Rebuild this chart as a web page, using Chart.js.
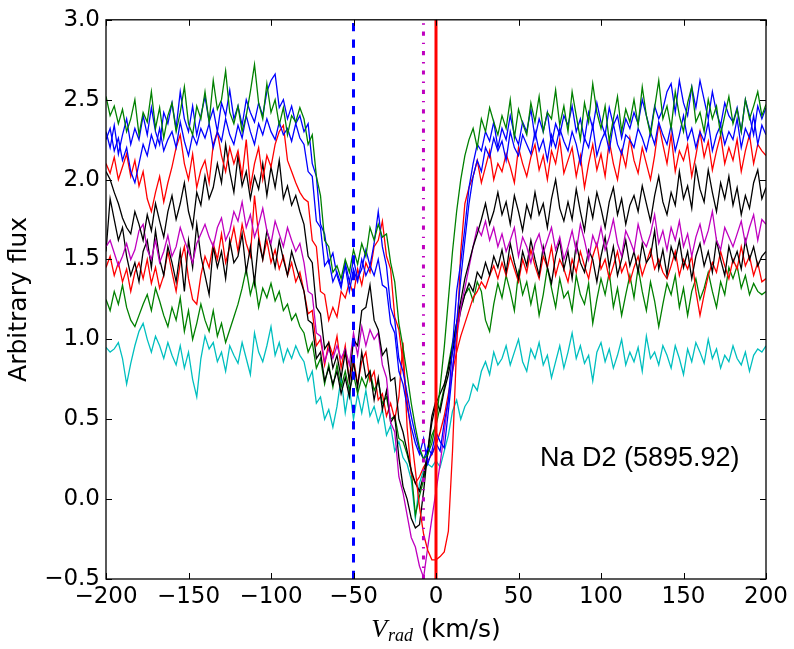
<!DOCTYPE html>
<html>
<head>
<meta charset="utf-8">
<script src="https://cdn.jsdelivr.net/npm/chart.js@4.4.1/dist/chart.umd.min.js"></script>
<style>
html,body{margin:0;padding:0;background:#fff;}
canvas{display:block;}
</style>
</head>
<body>
<canvas id="c" width="794" height="649"></canvas>
<script>
// Radial velocity grid (km/s)
const vel = [
-200,-197.5,-195,-192.5,-190,-187.5,-185,-182.5,
-180,-177.5,-175,-172.5,-170,-167.5,-165,-162.5,
-160,-157.5,-155,-152.5,-150,-147.5,-145,-142.5,
-140,-137.5,-135,-132.5,-130,-127.5,-125,-122.5,
-120,-117.5,-115,-112.5,-110,-107.5,-105,-102.5,
-100,-97.5,-95,-92.5,-90,-87.5,-85,-82.5,
-80,-77.5,-75,-72.5,-70,-67.5,-65,-62.5,
-60,-57.5,-55,-52.5,-50,-47.5,-45,-42.5,
-40,-37.5,-35,-32.5,-30,-27.5,-25,-22.5,
-20,-17.5,-15,-12.5,-10,-7.5,-5,-2.5,
0,2.5,5,7.5,10,12.5,15,17.5,
20,22.5,25,27.5,30,32.5,35,37.5,
40,42.5,45,47.5,50,52.5,55,57.5,
60,62.5,65,67.5,70,72.5,75,77.5,
80,82.5,85,87.5,90,92.5,95,97.5,
100,102.5,105,107.5,110,112.5,115,117.5,
120,122.5,125,127.5,130,132.5,135,137.5,
140,142.5,145,147.5,150,152.5,155,157.5,
160,162.5,165,167.5,170,172.5,175,177.5,
180,182.5,185,187.5,190,192.5,195,197.5,
200];

const greenHigh = [
2.52,2.40,2.46,2.35,2.44,2.30,2.38,2.50,
2.28,2.42,2.36,2.55,2.32,2.45,2.26,2.40,
2.48,2.30,2.42,2.58,2.35,2.28,2.46,2.38,
2.55,2.36,2.62,2.44,2.50,2.68,2.42,2.35,
2.46,2.30,2.40,2.55,2.72,2.48,2.38,2.60,
2.42,2.50,2.34,2.45,2.28,2.40,2.36,2.45,
2.38,2.22,2.28,2.02,1.90,1.62,1.58,1.42,
1.46,1.38,1.50,1.42,1.56,1.47,1.60,1.52,
1.70,1.62,1.72,1.64,1.66,1.48,1.36,1.10,
0.95,0.78,0.60,0.45,0.32,0.25,0.28,0.35,
0.48,0.70,0.95,1.25,1.55,1.80,2.00,2.15,
2.25,2.32,2.20,2.38,2.30,2.45,2.36,2.28,
2.40,2.32,2.50,2.26,2.44,2.35,2.28,2.48,
2.36,2.52,2.30,2.42,2.38,2.56,2.34,2.46,
2.30,2.55,2.40,2.25,2.48,2.36,2.60,2.42,
2.32,2.46,2.24,2.38,2.52,2.30,2.44,2.36,
2.50,2.34,2.58,2.40,2.28,2.45,2.62,2.38,
2.46,2.32,2.55,2.40,2.30,2.48,2.58,2.36,
2.42,2.30,2.50,2.38,2.46,2.28,2.40,2.52,
2.35,2.44,2.30,2.50,2.38,2.46,2.55,2.40,
2.47];

const blueA = [
2.30,2.20,2.34,2.16,2.28,2.38,2.22,2.32,
2.25,2.40,2.28,2.45,2.30,2.22,2.42,2.35,
2.48,2.32,2.55,2.38,2.30,2.46,2.28,2.40,
2.52,2.36,2.44,2.30,2.48,2.40,2.56,2.38,
2.46,2.34,2.50,2.42,2.36,2.48,2.40,2.55,
2.62,2.66,2.45,2.50,2.38,2.46,2.35,2.40,
2.30,2.35,2.10,2.02,1.72,1.66,1.48,1.54,
1.40,1.32,1.48,1.36,1.50,1.38,1.44,1.56,
1.46,1.60,1.80,1.58,1.46,1.20,1.12,0.88,
0.80,0.66,0.52,0.40,0.30,0.25,0.32,0.28,
0.35,0.30,0.48,0.62,0.95,1.30,1.48,1.70,
1.95,2.10,2.22,2.18,2.30,2.24,2.36,2.20,
2.32,2.25,2.40,2.28,2.22,2.36,2.30,2.44,
2.26,2.38,2.30,2.42,2.22,2.35,2.28,2.40,
2.34,2.46,2.30,2.38,2.25,2.42,2.32,2.48,
2.36,2.28,2.45,2.34,2.40,2.26,2.38,2.32,
2.42,2.35,2.50,2.40,2.30,2.46,2.38,2.44,
2.55,2.60,2.42,2.62,2.48,2.40,2.58,2.45,
2.62,2.50,2.38,2.55,2.42,2.34,2.48,2.40,
2.36,2.45,2.30,2.50,2.40,2.28,2.46,2.38,
2.45];

const blueB = [
2.25,2.32,2.18,2.26,2.12,2.20,2.05,1.98,
2.10,2.22,2.15,2.28,2.20,2.32,2.18,2.25,
2.30,2.20,2.36,2.24,2.15,2.28,2.22,2.32,
2.26,2.35,2.20,2.30,2.24,2.38,2.28,2.22,
2.34,2.26,2.40,2.30,2.22,2.35,2.28,2.38,
2.30,2.25,2.36,2.28,2.32,2.24,2.35,2.26,
2.22,2.05,2.02,1.74,1.70,1.46,1.50,1.36,
1.42,1.34,1.46,1.30,1.44,1.36,1.50,1.40,
1.46,1.40,1.50,1.34,1.32,1.10,1.04,0.80,
0.72,0.58,0.45,0.35,0.28,0.38,0.22,0.30,
0.42,0.36,0.32,0.55,0.80,1.10,1.38,1.62,
1.85,2.02,2.12,2.05,2.20,2.14,2.26,2.18,
2.24,2.12,2.30,2.20,2.15,2.28,2.22,2.16,
2.30,2.18,2.25,2.12,2.28,2.20,2.32,2.24,
2.18,2.30,2.22,2.10,2.26,2.20,2.34,2.15,
2.24,2.30,2.18,2.35,2.22,2.16,2.28,2.25,
2.20,2.32,2.26,2.18,2.30,2.22,2.36,2.28,
2.22,2.34,2.18,2.28,2.40,2.25,2.32,2.20,
2.30,2.24,2.36,2.18,2.28,2.34,2.22,2.30,
2.25,2.38,2.20,2.32,2.26,2.40,2.22,2.34,
2.28];

const redHigh = [
2.10,2.04,2.14,2.00,2.08,2.16,2.02,2.12,
1.96,2.05,1.88,1.80,1.92,2.02,1.86,1.98,
2.08,2.20,2.28,2.10,2.00,2.16,1.95,2.06,
2.12,1.98,2.22,2.30,2.15,2.05,2.20,2.10,
2.18,2.02,2.25,1.95,2.10,2.20,2.00,2.15,
2.08,2.22,2.30,2.34,2.12,2.05,1.98,1.92,
1.88,1.86,1.62,1.58,1.30,1.28,1.12,1.20,
1.14,1.30,1.26,1.36,1.28,1.44,1.34,1.48,
1.42,1.58,1.62,1.74,1.52,1.44,1.14,1.06,
0.85,0.62,0.40,0.18,-0.05,-0.22,-0.32,-0.38,
-0.38,-0.36,-0.33,-0.20,0.30,0.95,1.55,1.85,
1.95,2.02,2.12,1.98,2.08,2.18,2.00,2.10,
2.05,2.16,2.08,1.98,2.20,2.10,2.02,2.14,
2.22,2.06,2.15,2.00,2.18,2.10,2.25,2.04,
2.12,2.20,2.02,2.15,1.95,2.10,2.22,2.06,
2.16,2.02,2.24,2.10,2.00,2.18,2.08,2.26,
2.12,2.04,2.20,2.10,2.00,2.15,2.35,2.22,
2.10,2.28,2.05,2.18,2.12,2.22,2.02,2.15,
2.30,2.14,2.24,2.06,2.18,2.28,2.10,2.20,
2.12,2.25,2.05,2.18,2.28,2.10,2.22,2.18,
2.15];

const redLow = [
1.45,1.52,1.40,1.48,1.36,1.44,1.30,1.42,
1.48,1.38,1.50,1.35,1.45,1.32,1.40,1.55,
1.42,1.30,1.48,1.58,1.38,1.25,1.22,1.40,
1.52,1.45,1.60,1.50,1.66,1.48,1.58,1.70,
1.55,1.72,1.60,1.52,1.90,1.65,1.50,1.62,
1.48,1.56,1.44,1.52,1.40,1.48,1.36,1.42,
1.30,1.16,1.18,0.96,1.00,0.84,0.98,0.90,
1.02,0.82,0.96,0.74,0.88,0.72,0.86,0.92,
0.74,0.80,0.62,0.66,0.52,0.60,0.50,0.64,
0.98,0.45,0.16,0.10,0.14,0.20,0.24,0.28,
0.34,0.42,0.52,0.66,0.80,0.92,1.02,1.10,
1.18,1.26,1.30,1.36,1.32,1.40,1.46,1.38,
1.48,1.40,1.52,1.44,1.36,1.50,1.42,1.56,
1.46,1.38,1.52,1.45,1.58,1.40,1.50,1.44,
1.36,1.50,1.42,1.55,1.46,1.38,1.52,1.60,
1.44,1.50,1.38,1.46,1.55,1.42,1.48,1.36,
1.45,1.52,1.40,1.48,1.56,1.44,1.50,1.42,
1.38,1.46,1.55,1.40,1.50,1.44,1.52,1.30,
1.15,1.28,1.40,1.48,1.42,1.55,1.46,1.38,
1.50,1.44,1.58,1.46,1.52,1.40,1.48,1.36,
1.38];

const blackHigh = [
2.05,2.00,1.92,1.85,1.76,1.70,1.66,1.80,
1.72,1.62,1.78,1.68,1.85,1.74,1.64,1.80,
1.90,1.75,1.85,1.98,1.80,1.70,1.92,1.84,
2.02,1.88,1.95,2.10,1.98,2.22,2.05,1.92,
2.15,1.96,2.05,1.88,2.02,1.94,2.10,1.90,
2.08,1.95,2.12,1.88,1.96,1.84,1.90,1.80,
1.72,1.52,1.48,1.20,1.16,0.94,0.98,0.82,
0.90,0.76,0.92,0.74,1.00,0.96,1.18,1.20,
1.34,1.12,1.06,0.90,0.94,0.74,0.76,0.50,
0.42,0.30,0.18,0.10,0.05,0.15,0.30,0.48,
0.60,0.66,0.72,0.82,0.95,1.10,1.24,1.38,
1.48,1.58,1.66,1.75,1.85,1.72,1.80,1.92,
1.78,1.86,1.72,1.90,1.80,1.68,1.84,1.76,
1.92,1.78,1.85,1.70,1.88,2.00,1.82,1.74,
1.86,1.75,1.94,1.80,1.68,1.88,1.76,1.92,
1.82,1.70,1.86,1.95,1.78,1.88,1.72,1.84,
1.90,1.80,1.96,1.85,1.74,1.90,2.02,1.86,
1.78,1.92,1.84,2.05,1.88,1.96,1.82,2.08,
1.94,1.86,2.06,1.92,1.80,1.98,1.88,2.02,
1.84,1.95,1.78,1.90,1.82,1.98,2.06,1.88,
1.95];

const blackLow = [
1.55,1.88,1.75,1.62,1.70,1.52,1.40,1.48,
1.36,1.55,1.62,1.45,1.68,1.50,1.40,1.58,
1.48,1.36,1.55,1.30,1.62,1.45,1.72,1.52,
1.40,1.28,1.58,1.45,1.55,1.38,1.62,1.48,
1.52,1.66,1.42,1.58,1.35,1.62,1.50,1.68,
1.58,1.45,1.62,1.50,1.40,1.55,1.46,1.38,
1.30,1.12,1.10,0.88,0.92,0.74,0.82,0.72,
0.80,0.66,0.76,0.64,0.86,0.70,0.92,0.76,
0.80,0.62,0.76,0.56,0.68,0.48,0.52,0.26,
0.08,0.00,-0.12,-0.18,-0.16,0.05,0.30,0.52,
0.62,0.55,0.68,0.78,0.92,1.05,1.18,1.28,
1.35,1.30,1.42,1.38,1.48,1.40,1.52,1.45,
1.56,1.42,1.60,1.48,1.38,1.55,1.46,1.62,
1.50,1.40,1.58,1.45,1.35,1.52,1.62,1.44,
1.55,1.38,1.60,1.48,1.42,1.56,1.50,1.36,
1.52,1.64,1.45,1.58,1.40,1.50,1.62,1.46,
1.55,1.42,1.60,1.48,1.52,1.68,1.44,1.56,
1.40,1.58,1.50,1.62,1.45,1.55,1.38,1.52,
1.60,1.46,1.55,1.42,1.62,1.50,1.40,1.58,
1.48,1.55,1.44,1.62,1.50,1.58,1.46,1.52,
1.55];

const magenta = [
1.58,1.62,1.54,1.46,1.52,1.60,1.50,1.56,
1.68,1.72,1.56,1.50,1.62,1.48,1.55,1.65,
1.52,1.58,1.70,1.62,1.55,1.48,1.60,1.66,
1.72,1.64,1.58,1.70,1.76,1.62,1.68,1.80,
1.74,1.86,1.70,1.78,1.64,1.72,1.82,1.68,
1.60,1.74,1.66,1.58,1.70,1.62,1.55,1.60,
1.48,1.30,1.28,1.04,1.02,0.86,0.94,0.88,
0.96,0.88,0.94,0.84,1.04,0.90,1.08,0.96,
1.06,1.00,1.04,0.84,0.76,0.48,0.42,0.14,
0.04,-0.10,-0.24,-0.30,-0.42,-0.49,-0.30,-0.12,
0.05,0.22,0.42,0.62,0.82,1.00,1.20,1.32,
1.45,1.58,1.70,1.65,1.74,1.62,1.70,1.58,
1.66,1.55,1.62,1.70,1.52,1.64,1.58,1.48,
1.60,1.66,1.54,1.62,1.70,1.56,1.64,1.50,
1.58,1.68,1.55,1.72,1.62,1.50,1.65,1.58,
1.70,1.56,1.64,1.75,1.60,1.52,1.68,1.62,
1.55,1.72,1.62,1.58,1.66,1.78,1.60,1.68,
1.56,1.70,1.62,1.74,1.58,1.66,1.52,1.64,
1.72,1.60,1.68,1.80,1.62,1.56,1.70,1.64,
1.58,1.66,1.74,1.60,1.70,1.78,1.62,1.75,
1.72];

const cyan = [
0.95,0.92,0.94,0.98,0.88,0.72,0.85,0.96,
1.05,1.10,1.00,0.92,1.02,0.96,0.88,0.98,
0.90,0.84,0.96,0.82,0.92,0.75,0.64,0.88,
1.02,0.94,0.98,0.86,0.92,0.80,0.96,0.90,
0.85,0.98,0.88,0.78,1.04,0.92,0.86,0.96,
1.08,0.90,0.98,0.86,0.94,0.88,0.96,0.90,
0.86,0.74,0.80,0.60,0.64,0.50,0.56,0.45,
0.58,0.76,0.54,0.70,0.50,0.66,0.54,0.68,
0.52,0.58,0.48,0.56,0.40,0.46,0.30,0.36,
0.26,0.22,0.12,-0.12,0.10,0.18,0.22,0.20,
0.24,0.20,0.30,0.40,0.55,0.62,0.50,0.58,
0.62,0.72,0.68,0.80,0.86,0.78,0.92,0.84,
0.88,0.96,0.84,0.92,1.00,0.86,0.80,0.94,
0.88,0.98,0.84,0.90,0.76,0.86,0.96,0.82,
0.92,1.04,0.88,0.96,0.85,0.90,0.74,0.92,
0.98,0.86,0.94,0.82,0.90,1.00,0.84,0.92,
0.86,0.95,0.80,1.02,0.88,0.92,0.84,0.96,
0.90,0.82,0.96,0.88,0.78,0.94,0.86,0.98,
0.92,0.85,1.00,0.88,0.94,0.82,0.90,0.86,
0.96,0.88,0.84,0.92,0.80,0.90,0.94,0.92,
0.96];

const greenLow = [
1.25,1.18,1.30,1.22,1.34,1.20,1.12,1.08,
1.15,1.22,1.28,1.18,1.32,1.24,1.15,1.08,
1.20,1.12,1.26,1.05,1.18,1.00,1.10,1.22,
1.12,1.05,1.18,1.02,1.10,0.98,1.06,1.14,
1.22,1.32,1.44,1.28,1.38,1.20,1.32,1.26,
1.35,1.24,1.30,1.18,1.22,1.12,1.16,1.08,
1.04,0.92,0.98,0.82,0.88,0.72,0.84,0.70,
0.84,0.70,0.80,0.68,0.78,0.66,0.76,0.70,
0.80,0.68,0.74,0.60,0.64,0.50,0.52,0.38,
0.36,0.28,0.18,-0.10,0.02,0.12,0.28,0.40,
0.46,0.58,0.70,0.84,0.98,1.10,1.20,1.28,
1.32,1.24,1.36,1.30,1.12,1.05,1.22,1.35,
1.26,1.40,1.30,1.18,1.42,1.28,1.36,1.22,
1.34,1.15,1.28,1.45,1.32,1.20,1.38,1.26,
1.30,1.18,1.40,1.28,1.22,1.35,1.10,1.25,
1.38,1.28,1.42,1.20,1.32,1.15,1.28,1.40,
1.26,1.45,1.30,1.18,1.36,1.24,1.08,1.22,
1.35,1.28,1.40,1.20,1.32,1.15,1.30,1.38,
1.25,1.32,1.42,1.30,1.20,1.36,1.28,1.45,
1.38,1.46,1.32,1.40,1.28,1.35,1.30,1.28,
1.30];

// Reference velocities marked by vertical lines (km/s)
const markVel = [-50, -7.6, 0];
const yRange = [-0.5, 3.0];
const xTicks = [-200, -150, -100, -50, 0, 50, 100, 150, 200];
const yTicks = [-0.5, 0.0, 0.5, 1.0, 1.5, 2.0, 2.5, 3.0];
const lineLabel = 'Na D2 (5895.92)';

const toXY = arr => arr.map((v, i) => ({x: vel[i], y: v}));
const vline = v => yRange.map(y => ({x: v, y: y}));

const series = [
  {data: greenHigh, color: '#008000'},
  {data: blueA, color: '#0000ff'},
  {data: blueB, color: '#0000ff'},
  {data: redHigh, color: '#ff0000'},
  {data: blackHigh, color: '#000000'},
  {data: magenta, color: '#bf00bf'},
  {data: blackLow, color: '#000000'},
  {data: redLow, color: '#ff0000'},
  {data: greenLow, color: '#008000'},
  {data: cyan, color: '#00bfbf'}
];

const datasets = [
  {data: vline(markVel[2]), borderColor: '#ff0000', borderWidth: 3},
  {data: vline(markVel[1]), borderColor: '#bf00bf', borderWidth: 3, borderDash: [4.2, 6.9, 1.4, 6.9]},
  {data: vline(markVel[0]), borderColor: '#0000ff', borderWidth: 3, borderDash: [8.3, 8.3]}
].concat(series.map(s => ({data: toXY(s.data), borderColor: s.color, borderWidth: 1.3})));

datasets.forEach(d => { d.pointRadius = 0; d.fill = false; d.tension = 0; d.borderCapStyle = 'butt'; d.borderJoinStyle = 'miter'; });

const fmt = v => String(v).replace('-', '\u2212');

const framePlugin = {
  id: 'frame',
  afterDraw(chart) {
    const ctx = chart.ctx;
    const a = chart.chartArea;
    const xs = chart.scales.x, ys = chart.scales.y;
    ctx.save();
    ctx.strokeStyle = '#000';
    ctx.lineWidth = 1;
    const tl = 6;
    ctx.beginPath();
    xTicks.forEach(t => {
      const p = Math.round(xs.getPixelForValue(t)) + 0.5;
      ctx.moveTo(p, a.bottom); ctx.lineTo(p, a.bottom - tl);
      ctx.moveTo(p, a.top); ctx.lineTo(p, a.top + tl);
    });
    yTicks.forEach(t => {
      const p = Math.round(ys.getPixelForValue(t)) + 0.5;
      ctx.moveTo(a.left, p); ctx.lineTo(a.left + tl, p);
      ctx.moveTo(a.right, p); ctx.lineTo(a.right - tl, p);
    });
    ctx.stroke();
    ctx.lineWidth = 1.3;
    ctx.strokeRect(a.left, a.top, a.right - a.left, a.bottom - a.top);

    // annotation
    ctx.fillStyle = '#000';
    ctx.font = '27px "Liberation Sans", Arial, sans-serif';
    ctx.textAlign = 'left';
    ctx.textBaseline = 'alphabetic';
    ctx.fillText(lineLabel, xs.getPixelForValue(63), ys.getPixelForValue(0.21));

    // y label
    ctx.save();
    ctx.translate(19, (a.top + a.bottom) / 2);
    ctx.rotate(-Math.PI / 2);
    ctx.font = '25px "DejaVu Sans", sans-serif';
    ctx.textAlign = 'center';
    ctx.textBaseline = 'middle';
    ctx.fillText('Arbitrary flux', 0, 0);
    ctx.restore();

    // x label: V_rad (km/s)
    const fV = 'italic 26px "Liberation Serif", "DejaVu Serif", serif';
    const fSub = 'italic 18px "Liberation Serif", "DejaVu Serif", serif';
    const fRest = '25px "DejaVu Sans", sans-serif';
    ctx.font = fV; const wV = ctx.measureText('V').width;
    ctx.font = fSub; const wS = ctx.measureText('rad').width;
    ctx.font = fRest; const wR = ctx.measureText(' (km/s)').width;
    const total = wV + 1 + wS + wR;
    let x0 = (a.left + a.right) / 2 - total / 2;
    const base = 637;
    ctx.textAlign = 'left';
    ctx.textBaseline = 'alphabetic';
    ctx.font = fV; ctx.fillText('V', x0, base); x0 += wV + 1;
    ctx.font = fSub; ctx.fillText('rad', x0, base + 4); x0 += wS;
    ctx.font = fRest; ctx.fillText(' (km/s)', x0, base);
    ctx.restore();
  }
};

new Chart(document.getElementById('c'), {
  type: 'line',
  data: {datasets: datasets},
  options: {
    responsive: false,
    animation: false,
    devicePixelRatio: 1,
    layout: {padding: {left: 0, right: 28, top: 18, bottom: 0}},
    plugins: {legend: {display: false}, tooltip: {enabled: false}},
    scales: {
      x: {
        type: 'linear', min: -200, max: 200,
        grid: {display: false, drawTicks: false},
        border: {display: false},
        afterFit: s => { s.height = 70; },
        afterBuildTicks: s => { s.ticks = xTicks.map(v => ({value: v})); },
        ticks: {
          color: '#000', padding: 4, maxRotation: 0, autoSkip: false,
          font: {family: '"DejaVu Sans", sans-serif', size: 23},
          callback: v => fmt(v)
        }
      },
      y: {
        type: 'linear', min: yRange[0], max: yRange[1],
        grid: {display: false, drawTicks: false},
        border: {display: false},
        afterFit: s => { s.width = 106; },
        afterBuildTicks: s => { s.ticks = yTicks.map(v => ({value: v})); },
        ticks: {
          color: '#000', padding: 6, autoSkip: false,
          font: {family: '"DejaVu Sans", sans-serif', size: 23},
          callback: v => fmt(Number(v).toFixed(1))
        }
      }
    }
  },
  plugins: [framePlugin]
});
</script>
</body>
</html>
